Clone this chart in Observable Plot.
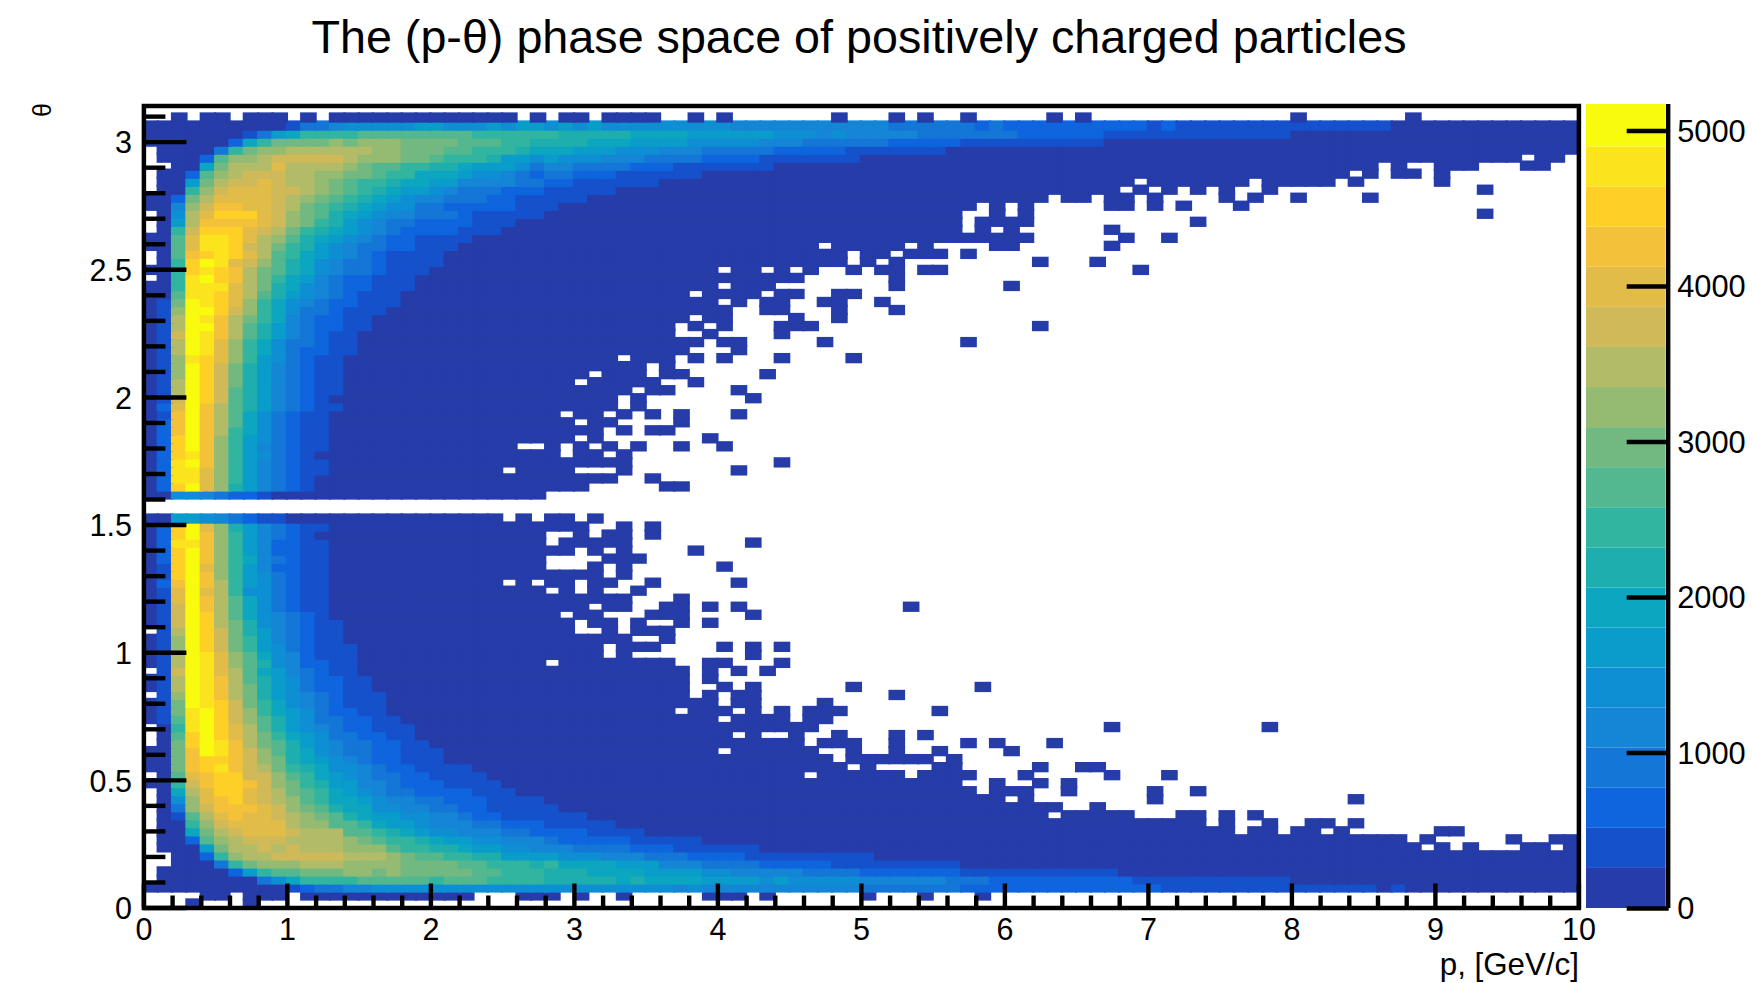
<!DOCTYPE html>
<html><head><meta charset="utf-8">
<script src="https://cdn.jsdelivr.net/npm/d3@7"></script>
<script src="https://cdn.jsdelivr.net/npm/@observablehq/plot@0.6"></script>
<style>
html,body{margin:0;padding:0;background:#fff}
#wrap{position:relative;width:1753px;height:983px;overflow:hidden;font-family:"Liberation Sans",Arial,sans-serif;color:#000}
#title{position:absolute;left:0;top:0;width:1718px;height:80px;line-height:74px;text-align:center;font-size:46.7px;white-space:nowrap}
#main{position:absolute;left:0;top:80px}
#bar{position:absolute;left:1580px;top:80px}
svg{display:block;background:transparent!important}
</style></head><body>
<div id="wrap"><div id="title">The (p-θ) phase space of positively charged particles</div><div id="main"></div><div id="bar"></div></div>
<script>
const titleText = "The (p-θ) phase space of positively charged particles";
const xLabel = "p, [GeV/c]";
const yLabel = "θ";
const xMajor = [0,1,2,3,4,5,6,7,8,9,10];
const xMinor = d3.range(0,51).map(i=>i/5).filter(v=>v%1!==0 && v<=10);
const yMajor = [0,0.5,1,1.5,2,2.5,3];
const yMinor = [0.1,0.2,0.3,0.4,0.6,0.7,0.8,0.9,1.1,1.2,1.3,1.4,1.6,1.7,1.8,1.9,2.1,2.2,2.3,2.4,2.6,2.7,2.8,2.9,3.1];
const barTicks = [0,1000,2000,3000,4000,5000];
const palette = ["#263ca8","#1651cc","#0f65de","#1476d6","#1585d6","#0e8fd4","#0a9cca","#0ca6c0","#1faeae","#31b5a0","#53b78f","#72b981","#95bb72","#b2bc68","#d0b958","#e1bc48","#f4c23a","#fed027","#fbe41d","#f9fb0e"];
const levelStep = 257.7;
const zMax = 5170;
const nBins = 100;
const thetaMax = Math.PI;
const pMax = 10;
// One entry per theta bin, from the top of the plot down: colour-level digits from p=0, then "|", then runs "from-to:level" (level 0 when omitted).
const rowsUpper = [
"|",
"|2 4-5 7-9 11 13-25 27 29-30 32-35 38 40 48 52 54 57 63 65 80 88",
"0000000000133455555665556566|28:5 29:6 30:5 31:6 32-40:5 41-51:4 52-57:3 58:2 59:3 60-69:2 70:1 71:2 72-86:1 87-99",
"000000013679999aaaaaaaa99999|28:9 29-33:8 34-37:7 38-43:6 44-46:5 47:4 48:5 49-53:4 54-60:3 61-66:2 67-79:1 80-99",
"000000279bbbbcbcccbbbbaaa998|28-30:8 31-33:7 34-37:6 38-42:5 43-45:4 46-51:3 52-56:2 57-66:1 67-99",
".000039bccddddddccbbbaa99987|28-29:7 30-32:6 33-35:5 36-38:4 39-43:3 44-48:2 49-55:1 56-99",
".0002accdeeeeedcccbba9998665|28:6 29-31:5 32-34:4 35-38:3 39-42:2 43-49:1 50-95 97-98",
"..007bdddfddddcbaa9988766653|28-29:4 30-33:3 34-36:2 37-43:1 44-85 87 90-92 96-97",
".002acdeeeddccbba99777655432|28-29:3 30-32:2 33-38:1 39-83 85 87-88 90",
".006bdeefeddcba9987766444433|28-29:2 30-35:1 36-68 70-76 78-82 84 90",
".009cefffeedcba9876654333222|28-32:1 33-67 69 71 73 75 78 93",
"002bdffffedcba98765443332211|28-30:1 31-62 64-65 67-68 70 75 77 80 85",
"004ceggffedba987655332222211|28:1 29-57 59 61 67-68 70 72 76",
".05dfhhhfecba876544333211111|28-56 59 61 93",
".06dggggfecb98654332222111|26-56 58-61 73",
".09ehhhfedb98765432222111|25-56 58 60 67",
"00afiihfdca87654322 1111|23-61 68 71",
"00afiihedb986543322111|22-46 48-52 54 59-60 67",
".0aghihfda97654321111|21-48 50-51 53-55 57",
".09hjifeca87543321111|21-48 50 52 62 66",
"009hihgdba875433 2111|20-39 41-42 44 46 49 51-52 54-55 69",
".09ijhgdb9764322111|19-45 52",
"009iiifdb8754322111|19-39 41-43 52 60",
"00aiihfda865432111|18-37 39-42 44-45 48-49",
"01bjihfc9754322111|18-39 41 43-44 47-48 51",
"01cjjhec975332111|17-40 43-44 48 52",
"01djigdb97432211|16-37 39-40 45 48",
"01djjgda86432211|16-36 38 40 44-46 62",
"01ejigda8643211|15-36 39 44",
"01djifc97533211|15-38 40-41 47 57",
"01djifc97532211|15-37 41",
"01cihfc965321 1|14-32 34-36 38 40 44 49",
"01cjheb8643211|14-34 36",
"01cjheb8643211|14-30 32-34 36-37 43",
"01djheb8643211|14-29 31-35 38",
"01djhea8643211|14-33 35-36 41",
"01ejhea864321|13-32 34 42",
"02fjgda8643211|14-32 34",
"01gjgda7532 11|13-28 30-31 33 35 37 41",
"02gjgda753211|13-29 31-32 37",
"02gjgd9753211|13-31 33 35-36",
"02hjgc9653211|13-29 31 39",
"02hjgc9643211|13-25 28 30 32 34 37 40",
"02higc965321|12-28 30-31 33",
"02ijgc9643211|13-33 44",
"02iifc9643211|13-24 26-29 33 41",
"02iifc964321|12-32 35",
"02hjfc864321|12-30 36-37",
"005543221|9-27"
];
const rowsLower = [
"|",
"|",
"0066543211|10-24 26 28-29 31",
"02hjfc8643211|13-30 33 35",
"02hjgc964321|12-27 30 32-33 35",
"02iigc9642211|13-27 29-33 42",
"02hjgc9642211|13-29 31 33 38",
"02hjgc9743211|13-27 32-34",
"01hjfc9642211|13-27 31 33 40",
"01hjgc9653211|13-31 33",
"02gjgd9653211|13-24 26 28-29 31-32 35 41",
"01fjfd9553211|13-27 29 31 34",
"01fjgda753211|13-33 37",
"01ejgda753211|13-30 32-33 36-37 39 41 53",
"01ejhda754321|13-28 30-31 35-37 42",
"01ejhdb8543211|14-29 31-32 34 37 39",
".1djheb8643211|14-29 32 34-36",
"01cjheb9643211|14-33 36",
"01cjheb96532111|15-31 33-35 40 42 44",
"01djifca7542111|15-31 33 42",
"01djifca8542211|15-27 29-36 39-40 44",
".1ejifda7643211|15-37 39 41 43",
"01djigda86532211|16-37 39",
"01djigdb86532211|16-37 40 42 49 58",
".1cjigdb865432111|17-37 39 41-42 52",
"01bjiheb975432111|17-39 41-42 47",
"01bijhec976532211|17-36 38-40 42 44 46-48 55",
"01aijheca865332211|18-39 41-44 46-47",
".09ijhfda8654322111|19-46 67 78",
".0ahjhfdb9765332211|19-40 42 45 48 52 54",
".0bhjigdba8654332211|20-45 47-49 52 57 59 63",
"00bgjigeca87543322111|21-39 41-46 49 52 55 60",
"00bghhgecb87654322111|21-47 49-54 56",
"00bghigedb9875543221111|23-48 50 55-56 62 65-66",
".0afghheeca9765433221111|24-45 47-52 54-57 61 67 71",
"009eghhgecb98664432221111|25-56 59 62 64",
".07dfhhfedba97654332222111|26-57 59-61 64 70 73",
".05cfghfedca9776544332221111|28-59 61 70 84",
".03cegggfecba8775544332211111|29-63 66",
".01adfgffedcba876655443221111|29-30:1 31-62 64-68 72-73 75 77",
".009ceffffdccaa97665444332221|29-32:1 33-73 75 78 81-82 84",
".007bdefffedddaa9876554443322|29-30:2 31-34:1 35-75 77-78 80-81 83 90-91",
".002acdeeeddddcba998766554443|29-33:2 34-38:1 39-87 89 95 98-99",
".0006bddededddccca99887665544|29:4 30-33:3 34-36:2 37-42:1 43-88 90 92 96-97 99",
"..0029cddeeeeedddcbaa99886666|29-31:5 32-34:4 35-37:3 38-41:2 42-50:1 51-99",
"..00039bcccdddccccbbbbaa99989|29-32:7 33-35:6 36-38:4 39-42:3 43-47:2 48-56:1 57-99",
".00000269aabbbccbcbbbbbaa9998|29-30:8 31-34:7 35-38:6 39-40:5 41-45:4 46-49:3 50-56:2 57-67:1 68-99",
".0000000357 9999aaaaa9aaa99998|29-32:8 33:7 34:8 35-38:7 39-42:6 43:5 44:6 45-49:5 50-55:4 56-58:3 59-68:2 69-79:1 80-99",
"0000000000123344555555555555|28-36:5 37:4 38:5 39-49:4 50-56:3 57-70:2 71-85:1 86 87:1 88-99",
"|4-5 7-9 11-22 26-28 30 33 39-41 43 50 54 58",
"|3 7"
];

// Expand the rows into a table; upper rows paint over lower ones, right cells over left ones.
const allRows = rowsUpper.concat(rowsLower);
const pW = pMax / nBins, tH = thetaMax / nBins;
const cellsByRow = allRows.map((row, t) => {
  const [prefix, tokens] = row.split("|");
  const levels = new Map();
  [...prefix.replace(/ /g, "")].forEach((ch, c) => { if (ch !== ".") levels.set(c, parseInt(ch, 36)); });
  tokens.trim().split(/\s+/).filter(Boolean).forEach(tok => {
    const [range, lv] = tok.split(":");
    const [a, b] = range.split("-").map(Number);
    for (let c = a; c <= (b === undefined ? a : b); c++) levels.set(c, lv === undefined ? 0 : parseInt(lv, 36));
  });
  const r = nBins - 1 - t;
  return [...levels.entries()].sort((p, q) => p[0] - q[0]).map(([c, l]) => ({
    p1: c * pW, p2: (c + 1) * pW, th1: r * tH, th2: (r + 1) * tH, z: (l + 0.5) * levelStep
  }));
});
const cells = cellsByRow.reverse().flat();

const edges = d3.range(1, palette.length).map(k => k * levelStep);
const colorScale = {type: "threshold", domain: edges, range: palette};
const font = "'Liberation Sans',Arial,sans-serif";
const tickW = 4.4;

const main = Plot.plot({
  width: 1753, height: 903,
  marginLeft: 143.4, marginRight: 174.6, marginTop: 25.5, marginBottom: 75.5,
  style: {fontFamily: font, background: "transparent", color: "#000", overflow: "visible"},
  x: {domain: [0, pMax], axis: null},
  y: {domain: [0, thetaMax], axis: null},
  color: colorScale,
  marks: [
    Plot.rect(cells, {x1: "p1", x2: "p2", y1: "th1", y2: "th2", fill: "z", stroke: "z", strokeWidth: 2.3}),
    Plot.axisX(xMajor, {anchor: "bottom", tickSize: -24, fill: "none", stroke: "#000", strokeWidth: tickW, strokeLinecap: "butt", label: null}),
    Plot.axisX(xMinor, {anchor: "bottom", tickSize: -12, fill: "none", stroke: "#000", strokeWidth: tickW, strokeLinecap: "butt", label: null}),
    Plot.axisY(yMajor, {anchor: "left", tickSize: -43, fill: "none", stroke: "#000", strokeWidth: tickW, strokeLinecap: "butt", label: null}),
    Plot.axisY(yMinor, {anchor: "left", tickSize: -22, fill: "none", stroke: "#000", strokeWidth: tickW, strokeLinecap: "butt", label: null}),
    Plot.frame({stroke: "#000", strokeWidth: 4.5}),
    Plot.axisX(xMajor, {anchor: "bottom", tickSize: 0, stroke: "none", fill: "#000", fontSize: 30.5, tickPadding: 10, label: null, tickFormat: d => String(d)}),
    Plot.axisY(yMajor, {anchor: "left", tickSize: 0, stroke: "none", fill: "#000", fontSize: 30.5, tickPadding: 12, dy: 1.5, label: null, tickFormat: d => String(d)}),
    Plot.text([xLabel], {text: d => d, frameAnchor: "bottom-right", textAnchor: "end", lineAnchor: "middle", dy: 56.5, fontSize: 31.3, fill: "#000"}),
    Plot.text([yLabel], {text: d => d, frameAnchor: "top-left", textAnchor: "middle", lineAnchor: "middle", dx: -101, dy: 4, rotate: -90, fontSize: 25, fill: "#000"})
  ]
});
document.getElementById("main").append(main);

const bands = palette.map((col, k) => ({lo: k * levelStep, hi: k === palette.length - 1 ? zMax : (k + 1) * levelStep, col}));
const bar = Plot.plot({
  width: 173, height: 903,
  marginLeft: 6, marginRight: 87.3, marginTop: 24, marginBottom: 75,
  style: {fontFamily: font, background: "transparent", color: "#000", overflow: "visible"},
  x: {domain: [0, 1], axis: null},
  y: {domain: [0, zMax], axis: null},
  color: colorScale,
  marks: [
    Plot.rect(bands, {x1: 0, x2: 1, y1: "lo", y2: "hi", fill: d => d.lo + 1}),
    Plot.ruleX([1], {dx: 2, stroke: "#000", strokeWidth: tickW}),
    Plot.axisY(barTicks, {anchor: "right", tickSize: -42, dx: 2, fill: "none", stroke: "#000", strokeWidth: tickW, strokeLinecap: "butt", label: null}),
    Plot.axisY(barTicks, {anchor: "right", tickSize: 0, stroke: "none", fill: "#000", fontSize: 30.8, tickPadding: 11, dy: 1, label: null, tickFormat: d => String(d)})
  ]
});
document.getElementById("bar").append(bar);
</script>
</body></html>
